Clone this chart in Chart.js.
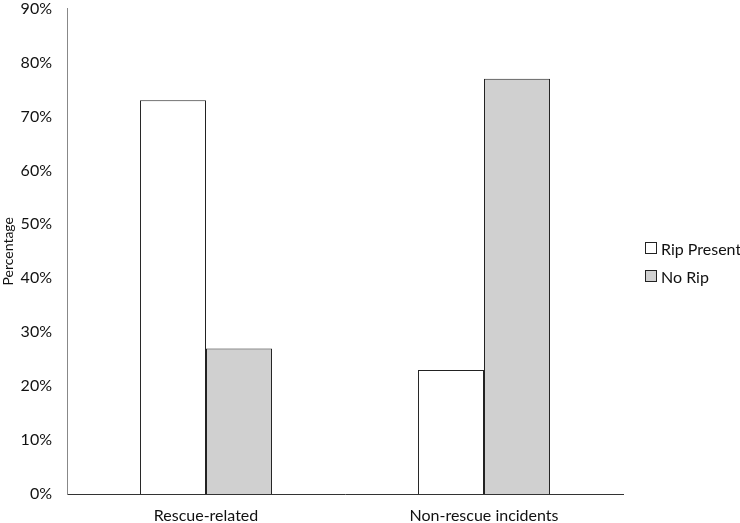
<!DOCTYPE html>
<html>
<head>
<meta charset="utf-8">
<script src="https://cdn.jsdelivr.net/npm/chart.js@4/dist/chart.umd.min.js"></script>
<style>
  html, body { margin: 0; padding: 0; background: #fff; }
  #wrap { position: relative; width: 740px; height: 523px; overflow: hidden; }
  #box { position: absolute; left: 0; top: -16px; width: 740px; height: 539px; }
  #legend { position: absolute; left: 645px; top: 234px; white-space: nowrap; font-family: Lato, "Liberation Sans", sans-serif; font-size: 16px; color: #111; }
  .item { display: flex; align-items: center; height: 28px; }
  .sw { width: 10px; height: 10px; border: 1px solid #222; margin-right: 4px; }
</style>
</head>
<body>
<div id="wrap">
  <div id="box"><canvas id="barChart"></canvas></div>
  <div id="legend"></div>
</div>
<script>
// categories and series (percent)
const categories = ["Rescue-related", "Non-rescue incidents"];
const ripPresent = [73, 23];
const noRip = [27, 77];
const seriesNames = ["Rip Present", "No Rip"];
const fills = ["#ffffff", "#d0d0d0"];

const barCtx = document.getElementById("barChart").getContext("2d");
const barChart = new Chart(barCtx, {
  type: "bar",
  data: {
    labels: categories,
    datasets: [
      {
        label: seriesNames[0],
        data: ripPresent,
        backgroundColor: fills[0],
        borderColor: "#222",
        borderWidth: 1,
      },
      {
        label: seriesNames[1],
        data: noRip,
        backgroundColor: fills[1],
        borderColor: "#222",
        borderWidth: 1,
      },
    ],
  },
  options: {
    responsive: true,
    maintainAspectRatio: false,
    animation: false,
    layout: { padding: { top: 5, right: 117, left: 0, bottom: 0 } },
    datasets: { bar: { categoryPercentage: 0.475, barPercentage: 1 } },
    plugins: {
      legend: { display: false },
      tooltip: { enabled: false },
    },
    scales: {
      x: {
        grid: { display: false, drawTicks: false },
        border: { color: "#333", width: 1 },
        afterFit: (scale) => { scale.height = 29; },
        ticks: {
          color: "#111",
          padding: 12,
          font: { family: "Lato", size: 16 },
        },
      },
      y: {
        min: 0,
        max: 90,
        grid: { display: false, drawTicks: false },
        border: { color: "#888", width: 1 },
        afterFit: (scale) => { scale.width = 67; },
        ticks: {
          stepSize: 10,
          color: "#111",
          padding: 15,
          font: { family: "Lato", size: 16 },
          callback: (v) => v + "%",
        },
        title: {
          display: true,
          text: "Percentage",
          color: "#111",
          padding: { top: 0, bottom: 0 },
          font: { family: "Lato", size: 14 },
        },
      },
    },
  },
});

// simple legend to the right, like the original
const legendEl = document.getElementById("legend");
seriesNames.forEach((name, i) => {
  const row = document.createElement("div");
  row.className = "item";
  row.innerHTML = '<span class="sw" style="background:' + fills[i] + '"></span>' + name;
  legendEl.appendChild(row);
});
</script>
</body>
</html>
